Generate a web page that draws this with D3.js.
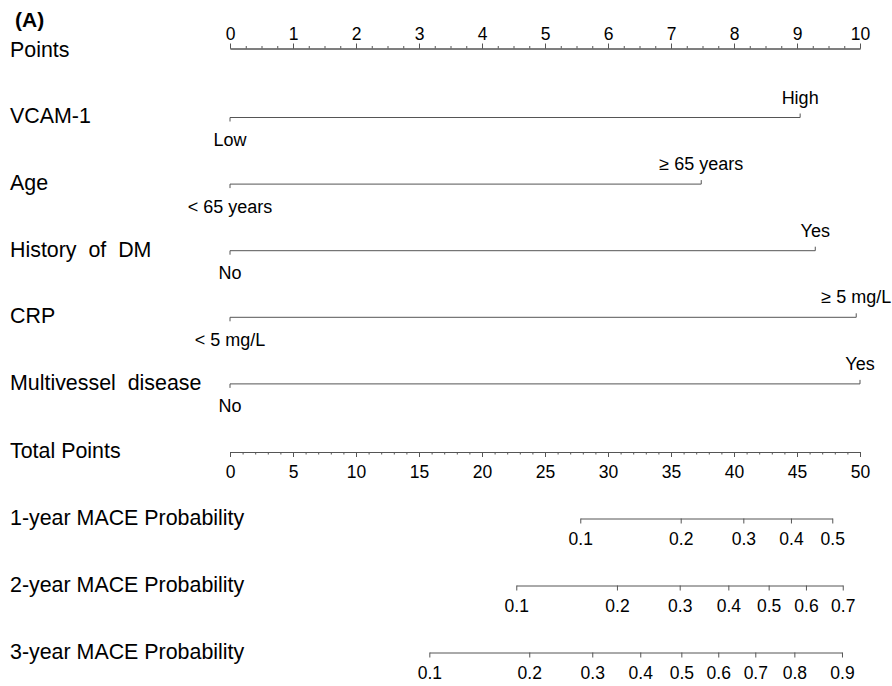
<!DOCTYPE html>
<html>
<head>
<meta charset="utf-8">
<script src="https://cdn.jsdelivr.net/npm/d3@7"></script>
<style>
  html, body { margin: 0; padding: 0; background: #fff; }
  svg text { font-family: 'Liberation Sans', Arial, sans-serif; fill: #000; white-space: pre; }
  .axis path, .axis line { stroke: #555; stroke-width: 1; }
  .axis text { font-size: 17.5px; fill: #000; }
  .axis text.level { font-size: 18px; }
</style>
</head>
<body>
<div id="vis"></div>
<script>
const pointTicks = [0, 1, 2, 3, 4, 5, 6, 7, 8, 9, 10];
const totalTicks = [0, 5, 10, 15, 20, 25, 30, 35, 40, 45, 50];

const variables = ['VCAM-1', 'Age', 'History  of  DM', 'CRP', 'Multivessel  disease'];
const lowLevels = ['Low', '< 65 years', 'No', '< 5 mg/L', 'No'];
const highLevels = ['High', '\u2265 65 years', 'Yes', '\u2265 5 mg/L', 'Yes'];
const highPoints = [9.05, 7.48, 9.29, 9.94, 10];

const probNames = ['1-year MACE Probability', '2-year MACE Probability', '3-year MACE Probability'];
const probs1y = [0.1, 0.2, 0.3, 0.4, 0.5];
const total1y = [27.8, 35.77, 40.74, 44.52, 47.8];
const probs2y = [0.1, 0.2, 0.3, 0.4, 0.5, 0.6, 0.7];
const total2y = [22.72, 30.71, 35.69, 39.55, 42.75, 45.71, 48.63];
const probs3y = [0.1, 0.2, 0.3, 0.4, 0.5, 0.6, 0.7, 0.8, 0.9];
const total3y = [15.82, 23.75, 28.75, 32.56, 35.82, 38.75, 41.69, 44.79, 48.57];

const width = 892;
const height = 686;
const left = 230;
const right = 860;
const labelX = 10;

const svg = d3.select('#vis')
              .append('svg')
                .attr('width', width)
                .attr('height', height);

const xPts = d3.scaleLinear().domain([0, 10]).range([left, right]);
const xTot = d3.scaleLinear().domain([0, 50]).range([left, right]);

function rowLabel(text, y) {
  svg.append('text')
    .attr('x', labelX)
    .attr('y', y)
    .attr('dy', '0.35em')
    .style('font-size', '21.4px')
    .text(text);
}

// panel tag
svg.append('text')
  .attr('x', 15)
  .attr('y', 27)
  .style('font-size', '21px')
  .style('font-weight', 'bold')
  .text('(A)');

// Points axis
const ptsY = 48.5;
svg.append('g')
    .attr('class', 'axis')
    .attr('transform', 'translate(0,' + ptsY + ')')
    .call(d3.axisTop(xPts).tickValues(d3.range(0, 10.001, 0.25)).tickSize(2.5).tickSizeOuter(0).tickFormat(''));
svg.append('g')
    .attr('class', 'axis')
    .attr('transform', 'translate(0,' + ptsY + ')')
    .call(d3.axisTop(xPts).tickValues(pointTicks).tickSize(5).tickSizeOuter(0).tickPadding(4).tickFormat(d3.format('d')));
rowLabel('Points', ptsY + 1);

// variable rows
const rowTop = 117.5;
const rowStep = 66.6;

variables.forEach(function (name, i) {
  const y = rowTop + i * rowStep;
  const x0 = xPts(0);
  const x1 = xPts(highPoints[i]);
  const g = svg.append('g').attr('class', 'axis');

  g.append('line').attr('x1', x0).attr('x2', x1).attr('y1', y).attr('y2', y);
  g.append('line').attr('x1', x0).attr('x2', x0).attr('y1', y).attr('y2', y + 4);
  g.append('line').attr('x1', x1).attr('x2', x1).attr('y1', y).attr('y2', y - 4);

  g.append('text')
    .attr('class', 'level')
    .attr('x', x0)
    .attr('y', y + 28.5)
    .attr('text-anchor', 'middle')
    .text(lowLevels[i]);
  g.append('text')
    .attr('class', 'level')
    .attr('x', x1)
    .attr('y', y - 14)
    .attr('text-anchor', 'middle')
    .text(highLevels[i]);

  rowLabel(name, y - 1.5);
});

// Total points axis
const totY = 452;
svg.append('g')
    .attr('class', 'axis')
    .attr('transform', 'translate(0,' + totY + ')')
    .call(d3.axisBottom(xTot).tickValues(d3.range(0, 50.001, 1)).tickSize(2.5).tickSizeOuter(0).tickFormat(''));
svg.append('g')
    .attr('class', 'axis')
    .attr('transform', 'translate(0,' + totY + ')')
    .call(d3.axisBottom(xTot).tickValues(totalTicks).tickSize(5).tickSizeOuter(0).tickPadding(9).tickFormat(d3.format('d')));
rowLabel('Total Points', totY - 1);

// probability axes
const probSets = [[probs1y, total1y], [probs2y, total2y], [probs3y, total3y]];
const probTop = 518.5;
const probStep = 67;

probSets.forEach(function (set, i) {
  const y = probTop + i * probStep;
  const scale = d3.scaleLinear()
                  .domain(set[0])
                  .range(set[1].map(function (t) { return xTot(t); }));
  svg.append('g')
      .attr('class', 'axis')
      .attr('transform', 'translate(0,' + y + ')')
      .call(d3.axisBottom(scale).tickValues(set[0]).tickSize(5).tickSizeOuter(0).tickPadding(9).tickFormat(d3.format('.1f')));
  rowLabel(probNames[i], y - 1);
});
</script>
</body>
</html>
